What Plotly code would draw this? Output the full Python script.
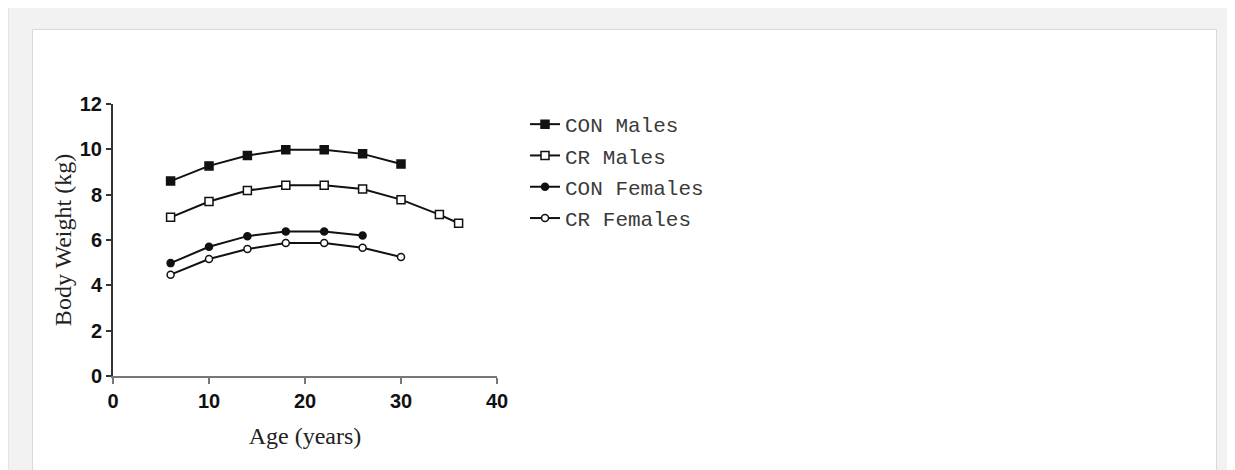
import plotly.graph_objects as go

age = [6, 10, 14, 18, 22, 26, 30, 34, 36]
con_males = [8.6, 9.27, 9.73, 9.98, 9.98, 9.8, 9.35]
cr_males = [7.0, 7.7, 8.18, 8.42, 8.42, 8.25, 7.78, 7.12, 6.74]
con_females = [4.98, 5.7, 6.17, 6.38, 6.38, 6.2]
cr_females = [4.47, 5.16, 5.6, 5.87, 5.87, 5.66, 5.25]

series = [
    ("CON Males", con_males, "square", True),
    ("CR Males", cr_males, "square", False),
    ("CON Females", con_females, "circle", True),
    ("CR Females", cr_females, "circle", False),
]

W, H = 1235, 470
OFF = 8  # page body margin
L, R, T, B = 113 - OFF, 497 - OFF, 104 - OFF, 376 - OFF  # plot area in svg pixels


def px(x):
    return (x - OFF - L) / (R - L)


def py(y):
    return (B - (y - OFF)) / (B - T)


fig = go.Figure()
for i, (name, vals, sym, filled) in enumerate(series):
    size = 8 if sym == "square" else 7
    fig.add_trace(go.Scatter(
        x=age[:len(vals)], y=vals, name=name, mode="lines+markers",
        legendgroup=f"g{i}",
        line=dict(color="#111111", width=2),
        marker=dict(symbol=sym, size=size, color="#111111" if filled else "white",
                    line=dict(color="#111111", width=1.5)),
    ))

# backdrop: gray frame and white card (window pixel coordinates)
fig.add_shape(type="rect", xref="paper", yref="paper",
              x0=px(8.5), x1=px(1250), y0=py(6.5), y1=py(500),
              fillcolor="#f2f2f2", line=dict(color="#e3e3e3", width=1), layer="below")
fig.add_shape(type="rect", xref="paper", yref="paper",
              x0=px(32.5), x1=px(1216.5), y0=py(29.5), y1=py(500),
              fillcolor="white", line=dict(color="#d9d9d9", width=1), layer="below")

fig.update_layout(
    width=W, height=H,
    margin=dict(l=L, r=W - R, t=T, b=H - B, pad=0),
    paper_bgcolor="white", plot_bgcolor="rgba(0,0,0,0)",
    showlegend=True,
    legend=dict(x=px(525), y=py(104), xanchor="left", yanchor="top",
                font=dict(family="Liberation Mono, Courier New, monospace", size=21, color="#3a3a3a"),
                bgcolor="rgba(0,0,0,0)", tracegroupgap=1, itemwidth=30),
    xaxis=dict(range=[0, 40], tickvals=[0, 10, 20, 30, 40], showgrid=False, zeroline=False,
               showline=True, linecolor="#777777", linewidth=2,
               ticks="outside", ticklen=6, tickwidth=2, tickcolor="#777777",
               tickfont=dict(family="Liberation Sans, Arial", size=20, color="#111111", weight="bold"),
               title=dict(text="Age (years)", standoff=16,
                          font=dict(family="Liberation Serif, Times New Roman", size=24, color="#222222"))),
    yaxis=dict(range=[0, 12], tickvals=[0, 2, 4, 6, 8, 10, 12], showgrid=False, zeroline=False,
               showline=True, linecolor="#333333", linewidth=2,
               ticks="outside", ticklen=5, tickwidth=2, tickcolor="#333333",
               tickfont=dict(family="Liberation Sans, Arial", size=20, color="#111111", weight="bold"),
               title=dict(text="Body Weight (kg)", standoff=1,
                          font=dict(family="Liberation Serif, Times New Roman", size=24, color="#222222"))),
)

fig.write_html("out.html")
